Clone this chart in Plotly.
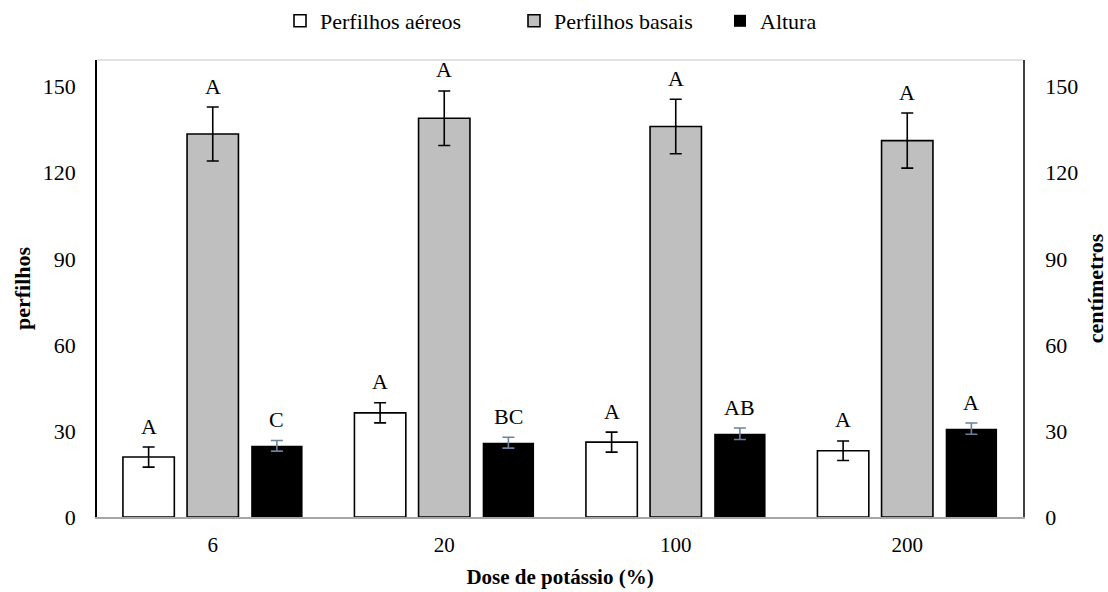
import plotly.graph_objects as go

doses = ["6", "20", "100", "200"]
aereos = [20.9, 36.3, 26.1, 23.1]
aereos_err = [3.5, 3.5, 3.5, 3.4]
aereos_lab = ["A", "A", "A", "A"]
basais = [133.5, 139.0, 136.1, 131.2]
basais_err = [9.4, 9.5, 9.5, 9.6]
basais_lab = ["A", "A", "A", "A"]
altura = [24.8, 25.9, 29.0, 30.8]
altura_err = [1.85, 1.9, 2.0, 1.95]
altura_lab = ["C", "BC", "AB", "A"]
yticks = [0, 30, 60, 90, 120, 150]

FONT = "Liberation Serif"
W = 0.222
OFFS = [-0.388, -0.111, 0.166]

fig = go.Figure()
fig.add_trace(go.Bar(
    x=doses, y=aereos, name="Perfilhos aéreos", width=W, offset=OFFS[0],
    legend="legend",
    marker=dict(color="white", line=dict(color="black", width=1.6)),
    error_y=dict(type="data", array=aereos_err, color="black", thickness=1.6, width=6),
))
fig.add_trace(go.Bar(
    x=doses, y=basais, name="Perfilhos basais", width=W, offset=OFFS[1],
    legend="legend2",
    marker=dict(color="#BFBFBF", line=dict(color="black", width=1.6)),
    error_y=dict(type="data", array=basais_err, color="black", thickness=1.6, width=6),
))
fig.add_trace(go.Bar(
    x=doses, y=altura, name="Altura", width=W, offset=OFFS[2], yaxis="y2",
    legend="legend3",
    marker=dict(color="black", line=dict(color="black", width=0)),
    error_y=dict(type="data", array=altura_err, color="#6A819F", thickness=1.6, width=6),
))

annos = []
for k, (vals, errs, labs) in enumerate([(aereos, aereos_err, aereos_lab),
                                        (basais, basais_err, basais_lab),
                                        (altura, altura_err, altura_lab)]):
    for i in range(len(doses)):
        annos.append(dict(
            x=i + OFFS[k] + W / 2, y=vals[i] + errs[i], xref="x",
            yref="y2" if k == 2 else "y",
            text=labs[i], showarrow=False, yanchor="middle", yshift=21,
            font=dict(family=FONT, size=22, color="black"),
        ))

def leg(xpx):
    return dict(orientation="h", x=xpx / 1108, xanchor="left", xref="container",
                y=1.0, yanchor="top", yref="container", itemwidth=30,
                font=dict(family=FONT, size=22, color="black"),
                bgcolor="rgba(0,0,0,0)")

fig.update_layout(
    width=1108, height=592,
    margin=dict(l=97, r=85, t=60, b=75, autoexpand=False),
    paper_bgcolor="white", plot_bgcolor="white",
    font=dict(family=FONT, size=21, color="black"),
    barmode="group",
    showlegend=True,
    legend=leg(280), legend2=leg(514), legend3=leg(720),
    annotations=annos,
    xaxis=dict(
        type="category", showline=True, linecolor="#A6A6A6", linewidth=1.5,
        ticks="", showgrid=False, tickfont=dict(size=21), ticklabelstandoff=8,
        title=dict(text="<b>Dose de potássio (%)</b>", font=dict(size=21), standoff=13),
        range=[-0.5, 3.5], automargin=False,
    ),
    yaxis=dict(
        range=[0, 159.3], tickvals=yticks, showgrid=False, zeroline=False,
        showline=True, linecolor="black", linewidth=1.5, ticks="",
        tickfont=dict(size=22), ticklabelstandoff=15, automargin=False,
        title=dict(text="<b>perfilhos</b>", font=dict(size=22), standoff=6),
    ),
    yaxis2=dict(
        range=[0, 159.3], tickvals=yticks, overlaying="y", side="right",
        showgrid=False, zeroline=False, showline=True, linecolor="#404040",
        linewidth=1.5, ticks="", tickfont=dict(size=22), ticklabelstandoff=16,
        automargin=False,
        title=dict(text="<b>centímetros</b>", font=dict(size=22), standoff=18),
    ),
    shapes=[dict(type="line", xref="paper", yref="paper", x0=0, x1=1, y0=1, y1=1,
                 line=dict(color="#D9D9D9", width=1.5))],
)

fig.write_html("out.html")
